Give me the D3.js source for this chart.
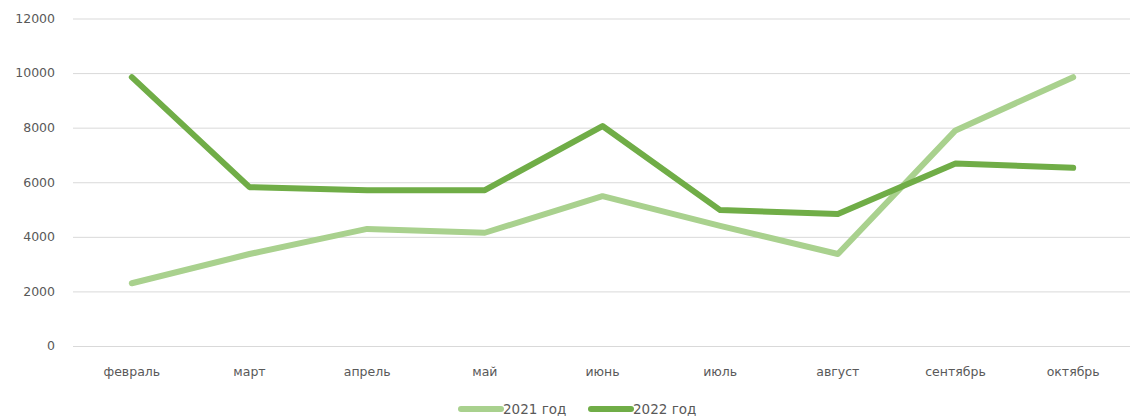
<!DOCTYPE html>
<html lang="ru">
<head>
<meta charset="UTF-8">
<title>Chart</title>
<script src="https://d3js.org/d3.v7.min.js"></script>
<style>
  body { margin: 0; background: #fff; }
  text { font-family: "DejaVu Sans", sans-serif; fill: #595959; }
</style>
</head>
<body>
<svg width="1130" height="418"></svg>
<script>
const months = ["февраль","март","апрель","май","июнь","июль","август","сентябрь","октябрь"];
const y2021 = [2300, 3370, 4290, 4150, 5490, 4400, 3370, 7900, 9850];
const y2022 = [9850, 5820, 5710, 5710, 8060, 4980, 4840, 6690, 6530];
const yTicks = [0, 2000, 4000, 6000, 8000, 10000, 12000];
const seriesNames = ["2021 год", "2022 год"];
const colors = ["#a9d18e", "#70ad47"];

let svg = d3.select("svg");
let plotLeft = 73, plotRight = 1132, plotTop = 18.5, plotBottom = 346;

let x = d3.scaleBand().domain(months).range([plotLeft, plotRight]);
let y = d3.scaleLinear().domain([0, 12000]).range([plotBottom, plotTop]);

// grid
svg.append("g").selectAll("line").data(yTicks).enter().append("line")
  .attr("x1", plotLeft).attr("x2", plotRight)
  .attr("y1", d => y(d) + 0.5).attr("y2", d => y(d) + 0.5)
  .attr("stroke", "#d9d9d9").attr("stroke-width", 1);

svg.append("g").selectAll("text").data(yTicks).enter().append("text")
  .attr("x", 55).attr("y", d => y(d)).attr("dy", "0.35em")
  .attr("text-anchor", "end").style("font-size", "12.5px")
  .text(d => d);

svg.append("g").selectAll("text").data(months).enter().append("text")
  .attr("x", d => x(d) + x.bandwidth() / 2).attr("y", 372).attr("dy", "0.35em")
  .attr("text-anchor", "middle").style("font-size", "12.5px")
  .text(d => d);

let line = d3.line()
  .x((d, i) => x(months[i]) + x.bandwidth() / 2)
  .y(d => y(d));

[y2021, y2022].forEach((s, k) => {
  svg.append("path").datum(s)
    .attr("d", line)
    .attr("fill", "none")
    .attr("stroke", colors[k])
    .attr("stroke-width", 6)
    .attr("stroke-linejoin", "round")
    .attr("stroke-linecap", "round");
});

// legend
let leg = svg.append("g");
let lx = [461, 591];
seriesNames.forEach((n, k) => {
  leg.append("line")
    .attr("x1", lx[k]).attr("x2", lx[k] + 40)
    .attr("y1", 409).attr("y2", 409)
    .attr("stroke", colors[k]).attr("stroke-width", 6)
    .attr("stroke-linecap", "round");
  leg.append("text")
    .attr("x", lx[k] + 42).attr("y", 409).attr("dy", "0.35em")
    .style("font-size", "13.5px")
    .text(n);
});
</script>
</body>
</html>
